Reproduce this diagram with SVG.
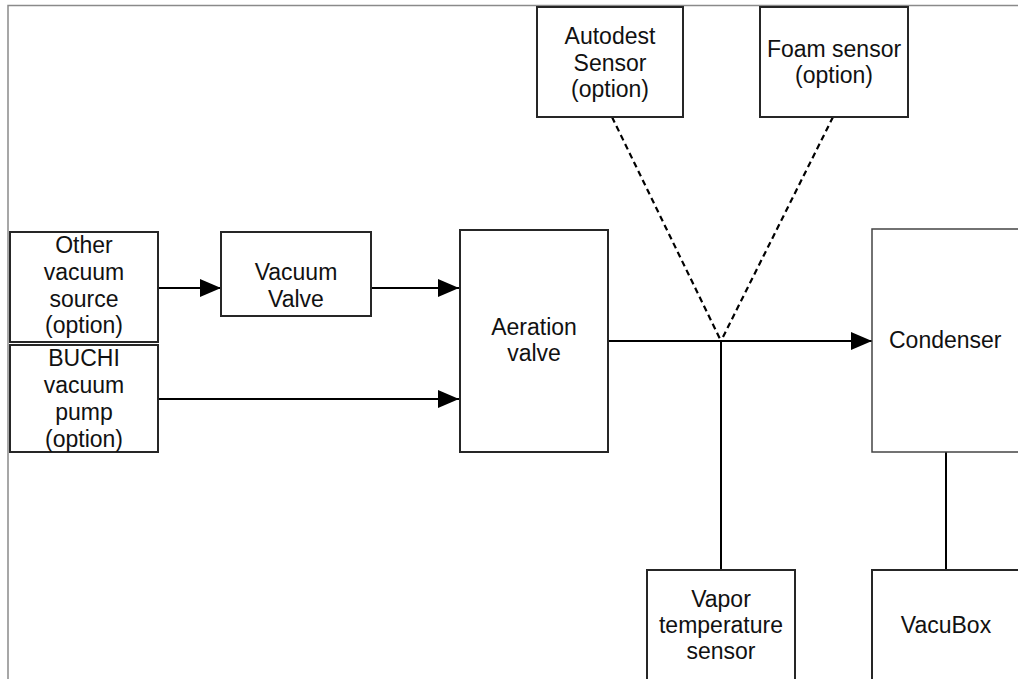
<svg xmlns="http://www.w3.org/2000/svg" width="1018" height="679" viewBox="0 0 1018 679">
<style>
.box{fill:#fff;stroke:#262626;stroke-width:2}
.frame{fill:none;stroke:#8a8a8a;stroke-width:1.5}
.t{font-family:"Liberation Sans",Arial,sans-serif;font-size:23px;fill:#111;text-anchor:middle}
.c{fill:none;stroke:#000;stroke-width:2}
.d{fill:none;stroke:#000;stroke-width:2.2;stroke-dasharray:6 4}
</style>
<defs>
<marker id="ah" markerUnits="userSpaceOnUse" markerWidth="22" markerHeight="18" refX="21" refY="9" orient="auto">
<path d="M0,0 L21,9 L0,18 Z" fill="#000"/>
</marker>
</defs>
<rect width="1018" height="679" fill="#fff"/>
<path class="frame" d="M8,679 V5.5 H1018"/>
<g id="connectors">
<line class="c" x1="158" y1="288" x2="221" y2="288" marker-end="url(#ah)"/>
<line class="c" x1="371" y1="288" x2="459" y2="288" marker-end="url(#ah)"/>
<line class="c" x1="158" y1="399" x2="459" y2="399" marker-end="url(#ah)"/>
<line class="c" x1="608" y1="341" x2="872" y2="341" marker-end="url(#ah)"/>
<line class="c" x1="721" y1="341" x2="721" y2="570"/>
<line class="c" x1="946" y1="452" x2="946" y2="570"/>
<line class="d" x1="612" y1="117" x2="721" y2="341"/>
<line class="d" x1="833" y1="117" x2="721" y2="341"/>
</g>
<g id="other-vacuum-source">
<rect class="box" x="10" y="232" width="148" height="110"/>
<text class="t" x="84" y="253">Other</text>
<text class="t" x="84" y="280">vacuum</text>
<text class="t" x="84" y="307">source</text>
<text class="t" x="84" y="333">(option)</text>
</g>
<g id="buchi-pump">
<rect class="box" x="10" y="345" width="148" height="107"/>
<text class="t" x="84" y="366">BUCHI</text>
<text class="t" x="84" y="393">vacuum</text>
<text class="t" x="84" y="420">pump</text>
<text class="t" x="84" y="447">(option)</text>
</g>
<g id="vacuum-valve">
<rect class="box" x="221" y="232" width="150" height="84"/>
<text class="t" x="296" y="280">Vacuum</text>
<text class="t" x="296" y="307">Valve</text>
</g>
<g id="aeration-valve">
<rect class="box" x="460" y="230" width="148" height="222"/>
<text class="t" x="534" y="335">Aeration</text>
<text class="t" x="534" y="361">valve</text>
</g>
<g id="autodest-sensor">
<rect class="box" x="537" y="7" width="146" height="110"/>
<text class="t" x="610" y="44">Autodest</text>
<text class="t" x="610" y="71">Sensor</text>
<text class="t" x="610" y="97">(option)</text>
</g>
<g id="foam-sensor">
<rect class="box" x="760" y="7" width="148" height="110"/>
<text class="t" x="834" y="57">Foam sensor</text>
<text class="t" x="834" y="83">(option)</text>
</g>
<g id="condenser">
<rect class="box" x="872" y="229" width="160" height="223" style="stroke:#444;stroke-width:1.5"/>
<text class="t" x="889" y="348" style="text-anchor:start">Condenser</text>
</g>
<g id="vapor-temperature-sensor">
<rect class="box" x="647" y="570" width="148" height="120"/>
<text class="t" x="721" y="607">Vapor</text>
<text class="t" x="721" y="633">temperature</text>
<text class="t" x="721" y="659">sensor</text>
</g>
<g id="vacubox">
<rect class="box" x="872" y="570" width="160" height="120"/>
<text class="t" x="946" y="633">VacuBox</text>
</g>
</svg>
